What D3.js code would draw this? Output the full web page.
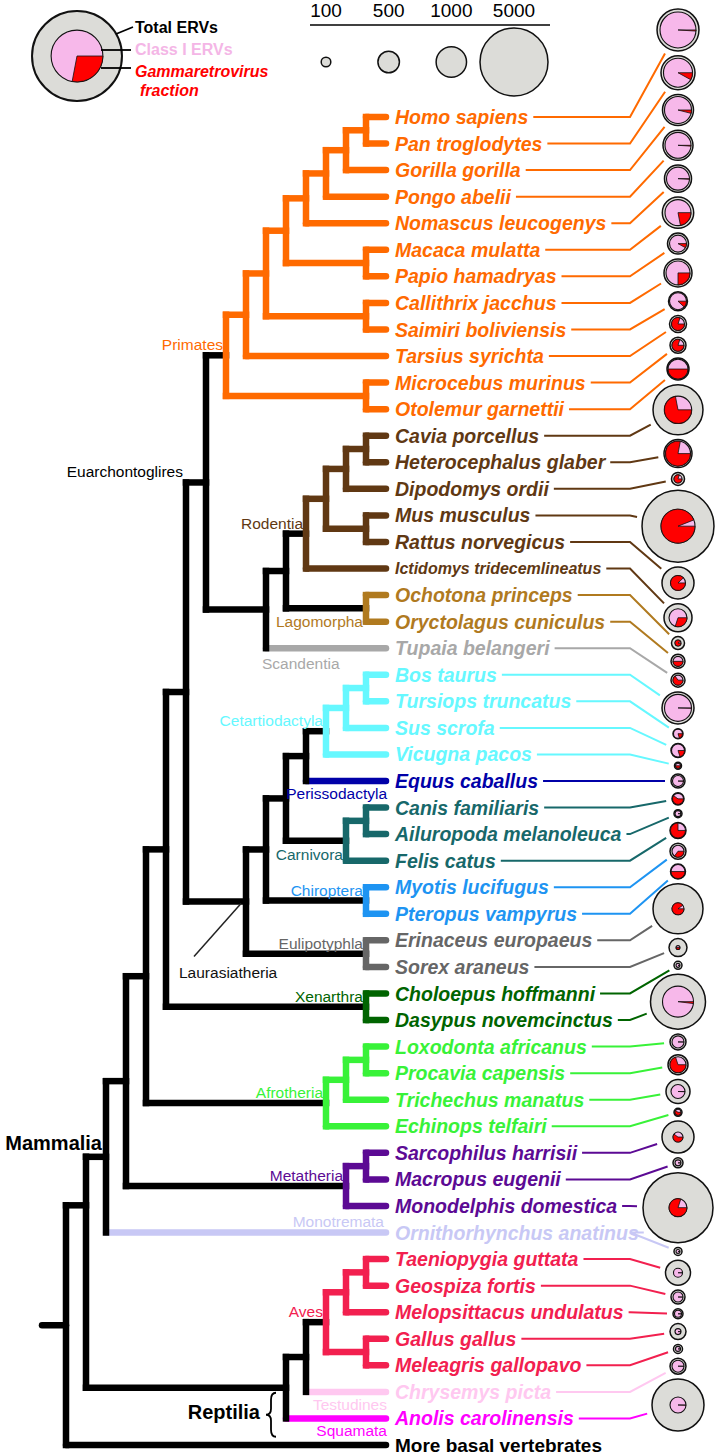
<!DOCTYPE html>
<html>
<head>
<meta charset="utf-8">
<script src="https://cdn.jsdelivr.net/npm/d3@7"></script>
<style>
  body { margin: 0; background: #fff; }
  text { font-family: Arial, "Liberation Sans", sans-serif; }
</style>
</head>
<body>
<script>
// species, top to bottom (last one is the outgroup, no circle)
const species = [
  'Homo sapiens', 'Pan troglodytes', 'Gorilla gorilla', 'Pongo abelii', 'Nomascus leucogenys',
  'Macaca mulatta', 'Papio hamadryas', 'Callithrix jacchus', 'Saimiri boliviensis', 'Tarsius syrichta',
  'Microcebus murinus', 'Otolemur garnettii',
  'Cavia porcellus', 'Heterocephalus glaber', 'Dipodomys ordii', 'Mus musculus', 'Rattus norvegicus',
  'Ictidomys tridecemlineatus', 'Ochotona princeps', 'Oryctolagus cuniculus', 'Tupaia belangeri',
  'Bos taurus', 'Tursiops truncatus', 'Sus scrofa', 'Vicugna pacos', 'Equus caballus',
  'Canis familiaris', 'Ailuropoda melanoleuca', 'Felis catus', 'Myotis lucifugus', 'Pteropus vampyrus',
  'Erinaceus europaeus', 'Sorex araneus', 'Choloepus hoffmanni', 'Dasypus novemcinctus',
  'Loxodonta africanus', 'Procavia capensis', 'Trichechus manatus', 'Echinops telfairi',
  'Sarcophilus harrisii', 'Macropus eugenii', 'Monodelphis domestica', 'Ornithorhynchus anatinus',
  'Taeniopygia guttata', 'Geospiza fortis', 'Melopsittacus undulatus', 'Gallus gallus',
  'Meleagris gallopavo', 'Chrysemys picta', 'Anolis carolinensis', 'More basal vertebrates'
];
const speciesClade = [
  'Primates','Primates','Primates','Primates','Primates','Primates','Primates','Primates','Primates','Primates','Primates','Primates',
  'Rodentia','Rodentia','Rodentia','Rodentia','Rodentia','Rodentia',
  'Lagomorpha','Lagomorpha','Scandentia',
  'Cetartiodactyla','Cetartiodactyla','Cetartiodactyla','Cetartiodactyla','Perissodactyla',
  'Carnivora','Carnivora','Carnivora','Chiroptera','Chiroptera','Eulipotyphla','Eulipotyphla',
  'Xenarthra','Xenarthra','Afrotheria','Afrotheria','Afrotheria','Afrotheria',
  'Metatheria','Metatheria','Metatheria','Monotremata',
  'Aves','Aves','Aves','Aves','Aves','Testudines','Squamata','Basal'
];

// ERV counts per genome (same order as species, outgroup excluded)
const totalERVs = [
  1900, 1250, 1040, 975, 790, 1065, 477, 848, 390, 312, 277, 523,
  2700, 848, 183, 5600, 1107, 848, 183, 212, 212,
  1107, 108, 212, 53, 212, 156, 69, 277, 277, 243,
  2700, 350, 69, 3270, 277, 432, 623, 69,
  1107, 108, 5300, 69,
  676, 212, 108, 277, 88, 277, 2924
];
const classIERVs = [
  1400, 910, 790, 730, 570, 730, 312, 620, 312, 183, 156, 430,
  810, 680, 70, 1250, 243, 350, 39, 108, 108,
  788, 88, 183, 27, 131, 131, 39, 243, 156, 212,
  156, 17, 17, 1039, 156, 277, 212, 39,
  108, 39, 350, 17,
  88, 108, 53, 39, 27, 156, 277
];
const gammaFraction = [
  0.01, 0.08, 0.04, 0.01, 0.01, 0.22, 0.08, 0.25, 0.12, 0.8, 0.8, 0.5,
  0.72, 0.78, 0.8, 0.94, 0.88, 0.3, 0.9, 0.5, 0.65,
  0.005, 0.2, 0.2, 0.5, 0.003, 0.6, 0.003, 0.75, 0.35, 0.5,
  0.9, 0.5, 0.003, 0.02, 0.003, 0.7, 0.005, 0.6,
  0.6, 0.003, 0.8, 0.003,
  0.003, 0.003, 0.003, 0.003, 0.003, 0.003, 0.005
];

// tree topology, leaves are species indices
const primates = [[[[[[[[0, 1], 2], 3], 4], [5, 6]], [7, 8]], 9], [10, 11]];
const glires = [[[[[12, 13], 14], [15, 16]], 17], [18, 19]];
const euarchontoglires = [primates, [glires, 20]];
const laurasiatheria = [[[[[[[21, 22], 23], 24], 25], [[26, 27], 28]], [29, 30]], [31, 32]];
const placentalia = [[[euarchontoglires, laurasiatheria], [33, 34]], [[[35, 36], 37], 38]];
const mammalia = [[placentalia, [[39, 40], 41]], 42];
const reptilia = [[[[[43, 44], 45], [46, 47]], 48], 49];
const tree = [[mammalia, reptilia], 50];

// size legend
const sizeLegend = [100, 500, 1000, 5000];
const legendExample = { total: 8750, classI: 2900, gamma: 0.28 };

// colours
const cladeColor = {
  Primates: '#ff6a00', Rodentia: '#603813', Lagomorpha: '#b07a1f', Scandentia: '#a8a8a8',
  Cetartiodactyla: '#66f8ff', Perissodactyla: '#0000a8', Carnivora: '#17686a', Chiroptera: '#1e94f2',
  Eulipotyphla: '#666666', Xenarthra: '#006400', Afrotheria: '#38f238', Metatheria: '#5c0a94',
  Monotremata: '#c8c8f5', Aves: '#f2204f', Testudines: '#ffc8f0', Squamata: '#ff00ff', Basal: '#000000'
};
const greyFill = '#dcdcd8', pinkFill = '#f7b8ea', red = '#ff0000';

const width = 717, height = 1456;
const svg = d3.select('body').append('svg').attr('width', width).attr('height', height);

// ---------- tree layout ----------
const root = d3.hierarchy(tree, d => Array.isArray(d) ? d : null);
const yScale = d3.scaleLinear().domain([0, species.length - 1]).range([117, 1445]);
const xScale = d3.scaleLinear().domain([0, root.height]).range([386, 66]);
const amniota = root.children[0];

root.eachAfter(n => {
  n.x = xScale(n.height);
  if (!n.children) {
    n.y = yScale(n.data);
    n.clade = speciesClade[n.data];
  } else {
    const a = n.children[0].y, b = n.children[n.children.length - 1].y;
    n.y = n === amniota ? a + 0.21 * (b - a) : (a + b) / 2;
    const cs = new Set(n.children.map(c => c.clade));
    n.clade = cs.size === 1 && !cs.has(null) ? [...cs][0] : null;
  }
});

const colorOf = c => c ? cladeColor[c] : '#000';
const branchW = 6.5;
const gTree = svg.append('g').attr('fill', 'none').attr('stroke-width', branchW);

// horizontal branches
gTree.selectAll('line.h').data(root.descendants().filter(n => n.parent)).enter().append('line')
  .attr('class', 'h')
  .attr('x1', d => d.parent.x).attr('x2', d => d.x)
  .attr('y1', d => d.y).attr('y2', d => d.y)
  .attr('stroke-linecap', d => d.children ? 'square' : 'round')
  .attr('stroke', d => {
    if (!d.children) return colorOf(d.clade);
    return d.parent.clade === d.clade ? colorOf(d.clade) : '#000';
  });
// root stem
gTree.append('line').attr('x1', 42).attr('x2', root.x).attr('y1', root.y).attr('y2', root.y)
  .attr('stroke', '#000').attr('stroke-linecap', 'round');
// vertical connectors
gTree.selectAll('line.v').data(root.descendants().filter(n => n.children)).enter().append('line')
  .attr('class', 'v')
  .attr('x1', d => d.x).attr('x2', d => d.x)
  .attr('y1', d => d.children[0].y).attr('y2', d => d.children[d.children.length - 1].y)
  .attr('stroke-linecap', 'square')
  .attr('stroke', d => colorOf(d.clade));

// ---------- circles ----------
const rScale = d3.scaleSqrt().domain([0, 5000]).range([0, 34]);
const outerR = totalERVs.map(v => rScale(v));
const colTop = 9, colBottom = 1431, circleX = 678;
const gap = (colBottom - colTop - 2 * d3.sum(outerR)) / (outerR.length - 1);
let acc = colTop;
const circleY = outerR.map(r => { const c = acc + r; acc += 2 * r + gap; return c; });

// ---------- leaf labels + connectors ----------
const leaves = root.leaves();
const gLab = svg.append('g');
leaves.forEach(n => {
  const i = n.data;
  const isBasal = i === species.length - 1;
  const t = gLab.append('text')
    .attr('x', 395).attr('y', n.y).attr('dy', '0.36em')
    .attr('font-size', i === 17 ? 16 : (isBasal ? 19 : 19.5))
    .attr('font-weight', 'bold')
    .attr('font-style', isBasal ? 'normal' : 'italic')
    .attr('fill', colorOf(n.clade))
    .text(species[i]);
  if (isBasal) return;
  const x0 = 395 + t.node().getComputedTextLength() + 5;
  const bx = 630;
  const cy = circleY[i], r = outerR[i];
  const dx = bx - circleX, dy = n.y - cy, len = Math.hypot(dx, dy);
  const ex = circleX + dx / len * (r + 6), ey = cy + dy / len * (r + 6);
  gLab.append('path')
    .attr('d', `M${x0},${n.y}H${bx}L${ex},${ey}`)
    .attr('fill', 'none').attr('stroke', colorOf(n.clade)).attr('stroke-width', 2);
});

const arc = d3.arc().innerRadius(0);
function drawPie(g, cx, cy, total, classI, frac, strokeW) {
  const rO = rScale(total), rI = rScale(classI);
  g.append('circle').attr('cx', cx).attr('cy', cy).attr('r', rO)
    .attr('fill', greyFill).attr('stroke', '#111').attr('stroke-width', strokeW);
  g.append('circle').attr('cx', cx).attr('cy', cy).attr('r', rI)
    .attr('fill', pinkFill).attr('stroke', '#111').attr('stroke-width', 1.1);
  g.append('path')
    .attr('transform', `translate(${cx},${cy})`)
    .attr('d', arc({ outerRadius: rI, startAngle: Math.PI / 2, endAngle: Math.PI / 2 + 2 * Math.PI * frac }))
    .attr('fill', red).attr('stroke', '#111').attr('stroke-width', 0.8);
}
const gPies = svg.append('g');
totalERVs.forEach((v, i) => drawPie(gPies, circleX, circleY[i], v, classIERVs[i], gammaFraction[i], 1.5));

// ---------- clade labels ----------
const cladeTop = c => root.descendants().find(n => n.clade === c && (!n.parent || n.parent.clade !== c));
const gCl = svg.append('g').attr('font-size', 15.5);
function cladeLabel(text, color, x, y, anchor) {
  gCl.append('text').attr('x', x).attr('y', y).attr('text-anchor', anchor || 'end')
    .attr('fill', color).text(text);
}
const nodeLabels = [
  ['Primates', 'above'], ['Rodentia', 'above'], ['Lagomorpha', 'below'], ['Cetartiodactyla', 'above'],
  ['Carnivora', 'below'], ['Chiroptera', 'above'], ['Eulipotyphla', 'above'], ['Xenarthra', 'above'],
  ['Afrotheria', 'above'], ['Metatheria', 'above'], ['Aves', 'above']
];
nodeLabels.forEach(p => {
  const n = cladeTop(p[0]);
  cladeLabel(p[0], cladeColor[p[0]], n.x - 3, p[1] === 'above' ? n.y - 5 : n.y + 19);
});

const tup = cladeTop('Scandentia');
cladeLabel('Scandentia', cladeColor.Scandentia, tup.parent.x - 4, tup.y + 21, 'start');
const eq = cladeTop('Perissodactyla');
cladeLabel('Perissodactyla', cladeColor.Perissodactyla, 387, eq.y + 18);
const mo = cladeTop('Monotremata');
cladeLabel('Monotremata', cladeColor.Monotremata, 384, mo.y - 6);
const te = cladeTop('Testudines');
cladeLabel('Testudines', cladeColor.Testudines, 387, te.y + 18);
const sq = cladeTop('Squamata');
cladeLabel('Squamata', cladeColor.Squamata, 387, sq.y + 18);

// Euarchontoglires label sits on its stem
const eu = root.descendants().find(n => n.children && n.children[0].clade === 'Primates');
cladeLabel('Euarchontoglires', '#000', eu.parent.x - 3, eu.y - 5);

// Laurasiatheria with leader line
const la = root.descendants().find(n => n.height === 7 && n.leaves()[0].data === 21);
gCl.append('line').attr('x1', la.x - 5).attr('y1', la.y + 2).attr('x2', la.x - 52).attr('y2', la.y + 55)
  .attr('stroke', '#222').attr('stroke-width', 1.5);
cladeLabel('Laurasiatheria', '#111', la.x - 67, la.y + 76, 'start');

// Mammalia / Reptilia
const ma = amniota.children[0], re = amniota.children[1];
gCl.append('text').attr('x', ma.x - 4).attr('y', ma.y - 7).attr('text-anchor', 'end')
  .attr('font-size', 20).attr('font-weight', 'bold').attr('fill', '#000').text('Mammalia');
gCl.append('text').attr('x', re.x - 26).attr('y', re.y + 31).attr('text-anchor', 'end')
  .attr('font-size', 20).attr('font-weight', 'bold').attr('fill', '#000').text('Reptilia');
const bX = re.x - 15, bY = re.y + 27;
gCl.append('path')
  .attr('d', `M${bX + 5},${bY - 22} Q${bX},${bY - 22} ${bX},${bY - 15} L${bX},${bY - 6} Q${bX},${bY} ${bX - 5},${bY} Q${bX},${bY} ${bX},${bY + 6} L${bX},${bY + 15} Q${bX},${bY + 22} ${bX + 5},${bY + 22}`)
  .attr('fill', 'none').attr('stroke', '#000').attr('stroke-width', 1.8);

// ---------- legends ----------
const gLeg = svg.append('g');
drawPie(gLeg, 77, 56, legendExample.total, legendExample.classI, legendExample.gamma, 2);
gLeg.append('line').attr('x1', 116).attr('y1', 34).attr('x2', 133).attr('y2', 27).attr('stroke', '#000').attr('stroke-width', 1.8);
gLeg.append('line').attr('x1', 101).attr('y1', 50).attr('x2', 131).attr('y2', 50).attr('stroke', '#000').attr('stroke-width', 1.8);
gLeg.append('line').attr('x1', 101).attr('y1', 68).attr('x2', 131).attr('y2', 68).attr('stroke', '#000').attr('stroke-width', 1.8);
const legTxt = [
  ['Total ERVs', '#000', 135, 33, 'normal'],
  ['Class I ERVs', '#f4b6e6', 135, 55, 'normal'],
  ['Gammaretrovirus', red, 135, 77, 'italic'],
  ['fraction', red, 140, 96, 'italic']
];
legTxt.forEach(p => gLeg.append('text').attr('x', p[2]).attr('y', p[3])
  .attr('font-size', 16).attr('font-weight', 'bold').attr('font-style', p[4]).attr('fill', p[1]).text(p[0]));

const sx = d3.scalePoint().domain(sizeLegend).range([326, 514]);
gLeg.append('line').attr('x1', 310).attr('x2', 550).attr('y1', 25).attr('y2', 25).attr('stroke', '#000').attr('stroke-width', 1.5);
gLeg.selectAll('text.sz').data(sizeLegend).enter().append('text').attr('class', 'sz')
  .attr('x', d => sx(d)).attr('y', 17).attr('text-anchor', 'middle').attr('font-size', 19).text(d => d);
gLeg.selectAll('circle.sz').data(sizeLegend).enter().append('circle').attr('class', 'sz')
  .attr('cx', d => sx(d)).attr('cy', 62).attr('r', d => rScale(d))
  .attr('fill', greyFill).attr('stroke', '#111').attr('stroke-width', 1.5);
</script>
</body>
</html>
